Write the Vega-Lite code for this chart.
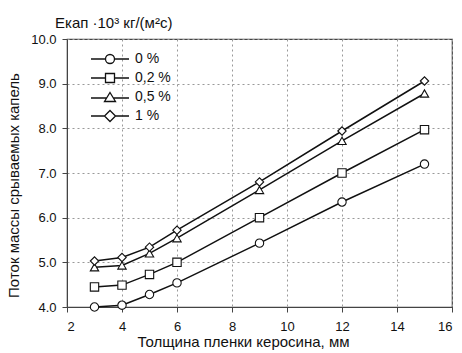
{
  "$schema": "https://vega.github.io/schema/vega-lite/v6.json",
  "autosize": "none",
  "width": 385,
  "height": 268,
  "padding": {"left": 67, "top": 39, "right": 10, "bottom": 46},
  "background": "white",
  "config": {
    "font": "Liberation Sans",
    "view": {"stroke": "#444", "strokeWidth": 1.2},
    "axis": {
      "labelFont": "Liberation Sans",
      "titleFont": "Liberation Sans",
      "labelFontSize": 13,
      "titleFontSize": 15,
      "titleFontWeight": "normal",
      "labelColor": "#111",
      "titleColor": "#111",
      "domainColor": "#444",
      "tickColor": "#444",
      "tickSize": 5,
      "gridColor": "#999",
      "gridDash": [2, 3],
      "gridWidth": 1
    }
  },
  "title": {
    "text": "Eкап ·10³ кг/(м²с)",
    "anchor": "start",
    "frame": "group",
    "dx": -12,
    "offset": 2,
    "fontSize": 15,
    "fontWeight": "normal",
    "font": "Liberation Sans",
    "color": "#111"
  },
  "data": {
    "values": [
      {"h": 3, "q": 4.0, "c": "0 %"},
      {"h": 4, "q": 4.04, "c": "0 %"},
      {"h": 5, "q": 4.28, "c": "0 %"},
      {"h": 6, "q": 4.54, "c": "0 %"},
      {"h": 9, "q": 5.43, "c": "0 %"},
      {"h": 12, "q": 6.35, "c": "0 %"},
      {"h": 15, "q": 7.2, "c": "0 %"},
      {"h": 3, "q": 4.45, "c": "0,2 %"},
      {"h": 4, "q": 4.49, "c": "0,2 %"},
      {"h": 5, "q": 4.73, "c": "0,2 %"},
      {"h": 6, "q": 5.0, "c": "0,2 %"},
      {"h": 9, "q": 6.0, "c": "0,2 %"},
      {"h": 12, "q": 7.0, "c": "0,2 %"},
      {"h": 15, "q": 7.97, "c": "0,2 %"},
      {"h": 3, "q": 4.89, "c": "0,5 %"},
      {"h": 4, "q": 4.93, "c": "0,5 %"},
      {"h": 5, "q": 5.2, "c": "0,5 %"},
      {"h": 6, "q": 5.54, "c": "0,5 %"},
      {"h": 9, "q": 6.62, "c": "0,5 %"},
      {"h": 12, "q": 7.72, "c": "0,5 %"},
      {"h": 15, "q": 8.78, "c": "0,5 %"},
      {"h": 3, "q": 5.03, "c": "1 %"},
      {"h": 4, "q": 5.11, "c": "1 %"},
      {"h": 5, "q": 5.34, "c": "1 %"},
      {"h": 6, "q": 5.72, "c": "1 %"},
      {"h": 9, "q": 6.8, "c": "1 %"},
      {"h": 12, "q": 7.94, "c": "1 %"},
      {"h": 15, "q": 9.06, "c": "1 %"}
    ]
  },
  "encoding": {
    "x": {
      "field": "h",
      "type": "quantitative",
      "scale": {"domain": [2, 16], "nice": false},
      "axis": {
        "title": "Толщина пленки керосина, мм",
        "values": [2, 4, 6, 8, 10, 12, 14, 16],
        "labelPadding": 8,
        "titlePadding": 1,
        "titleX": 176
      }
    },
    "y": {
      "field": "q",
      "type": "quantitative",
      "scale": {"domain": [4, 10], "nice": false, "zero": false},
      "axis": {
        "title": "Поток массы срываемых капель",
        "values": [4, 5, 6, 7, 8, 9, 10],
        "format": ".1f",
        "labelPadding": 6,
        "titlePadding": 9,
        "titleY": 146
      }
    }
  },
  "resolve": {"scale": {"shape": "independent"}, "legend": {"shape": "independent"}},
  "layer": [
    {
      "mark": {"type": "line", "color": "#111", "strokeWidth": 1.5},
      "encoding": {"detail": {"field": "c"}}
    },
    {
      "mark": {"type": "point", "filled": true, "fill": "white", "stroke": "#111", "strokeWidth": 1.1, "size": 70, "opacity": 1},
      "encoding": {
        "shape": {
          "field": "c",
          "type": "nominal",
          "scale": {"domain": ["0 %", "0,2 %", "0,5 %", "1 %"], "range": ["circle", "square", "triangle-up", "diamond"]},
          "legend": null
        }
      }
    },
    {
      "mark": {"type": "point", "filled": false, "stroke": "#111", "strokeWidth": 1.2, "opacity": 0},
      "encoding": {
        "shape": {
          "field": "c",
          "type": "nominal",
          "scale": {
            "domain": ["0 %", "0,2 %", "0,5 %", "1 %"],
            "range": [
              "M-1.9,0H-0.45M0.45,0H1.9M-0.45,0A0.45,0.45 0 1,1 0.45,0A0.45,0.45 0 1,1 -0.45,0Z",
              "M-1.9,0H-0.45M0.45,0H1.9M-0.45,-0.45H0.45V0.45H-0.45Z",
              "M-1.9,0.1H-0.34M0.34,0.1H1.9M0,-0.45L0.55,0.45H-0.55Z",
              "M-1.9,0H-0.55M0.55,0H1.9M0,-0.55L0.55,0L0,0.55L-0.55,0Z"
            ]
          },
          "legend": {
            "title": null,
            "orient": "none",
            "legendX": 32,
            "legendY": 9,
            "padding": 0,
            "symbolSize": 400,
            "symbolOpacity": 1,
            "symbolStrokeColor": "#111",
            "symbolStrokeWidth": 1.3,
            "labelFontSize": 14,
            "labelFont": "Liberation Sans",
            "labelColor": "#111",
            "labelOffset": 14,
            "rowPadding": 0
          }
        }
      }
    }
  ]
}
